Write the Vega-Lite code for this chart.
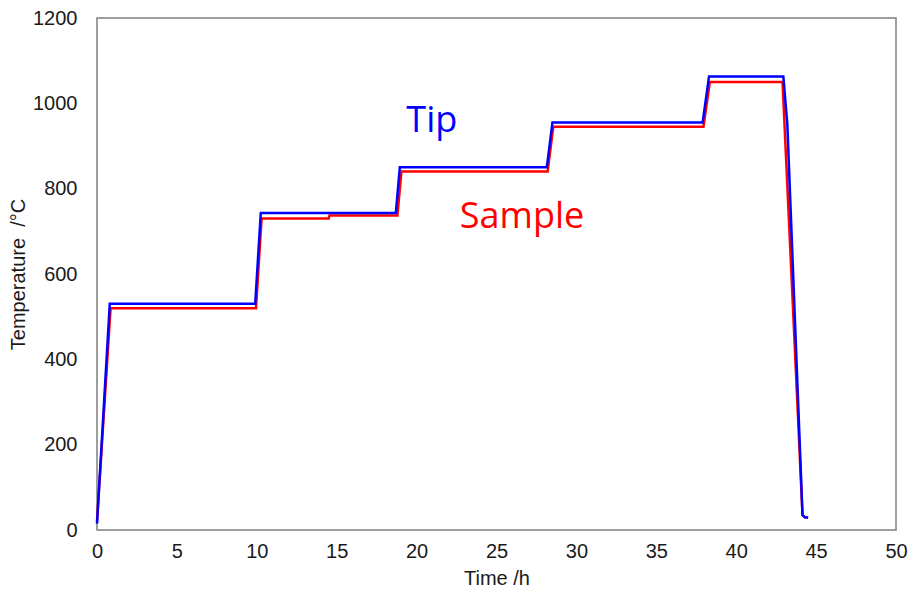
{
  "$schema": "https://vega.github.io/schema/vega-lite/v6.json",
  "autosize": "none",
  "width": 799,
  "height": 512,
  "padding": {"left": 97, "top": 18, "right": 14, "bottom": 67},
  "background": "white",
  "config": {
    "view": {"stroke": "#7f7f7f", "strokeWidth": 1.5},
    "font": "Liberation Sans"
  },
  "datasets": {
    "curves": [
      {"series": "Sample", "t": 0, "T": 20},
      {"series": "Sample", "t": 0.85, "T": 520},
      {"series": "Sample", "t": 9.95, "T": 520},
      {"series": "Sample", "t": 10.3, "T": 730},
      {"series": "Sample", "t": 14.5, "T": 730},
      {"series": "Sample", "t": 14.55, "T": 737},
      {"series": "Sample", "t": 18.8, "T": 737},
      {"series": "Sample", "t": 19.05, "T": 840},
      {"series": "Sample", "t": 28.2, "T": 840},
      {"series": "Sample", "t": 28.55, "T": 945},
      {"series": "Sample", "t": 37.95, "T": 945},
      {"series": "Sample", "t": 38.35, "T": 1050},
      {"series": "Sample", "t": 42.9, "T": 1050},
      {"series": "Sample", "t": 44.15, "T": 35},
      {"series": "Sample", "t": 44.3, "T": 30},
      {"series": "Sample", "t": 44.5, "T": 29},
      {"series": "Tip", "t": 0, "T": 15},
      {"series": "Tip", "t": 0.8, "T": 530},
      {"series": "Tip", "t": 9.9, "T": 530},
      {"series": "Tip", "t": 10.25, "T": 743},
      {"series": "Tip", "t": 18.7, "T": 743},
      {"series": "Tip", "t": 18.95, "T": 850},
      {"series": "Tip", "t": 28.15, "T": 850},
      {"series": "Tip", "t": 28.5, "T": 955},
      {"series": "Tip", "t": 37.9, "T": 955},
      {"series": "Tip", "t": 38.3, "T": 1063},
      {"series": "Tip", "t": 42.95, "T": 1063},
      {"series": "Tip", "t": 43.2, "T": 950},
      {"series": "Tip", "t": 44.15, "T": 35},
      {"series": "Tip", "t": 44.3, "T": 30},
      {"series": "Tip", "t": 44.5, "T": 29}
    ],
    "labels": [
      {"series": "Tip", "t": 20.95, "T": 958},
      {"series": "Sample", "t": 26.6, "T": 733}
    ]
  },
  "layer": [
    {
      "data": {"name": "curves"},
      "mark": {"type": "line", "strokeWidth": 2.5},
      "encoding": {
        "x": {
          "field": "t", "type": "quantitative",
          "scale": {"domain": [0, 50], "nice": false},
          "axis": {
            "title": "Time /h", "values": [0,5,10,15,20,25,30,35,40,45,50],
            "format": "d", "labelFlush": false, "labelOverlap": false,
            "grid": false, "ticks": false, "domain": false,
            "labelFontSize": 20, "labelColor": "#1a1a1a", "labelPadding": 11,
            "titleFontSize": 20, "titleFontWeight": "normal", "titleColor": "#1a1a1a", "titlePadding": 7
          }
        },
        "y": {
          "field": "T", "type": "quantitative",
          "scale": {"domain": [0, 1200], "nice": false},
          "axis": {
            "title": "Temperature\u00a0\u00a0/°C", "values": [0,200,400,600,800,1000,1200],
            "format": "d", "labelFlush": false, "labelOverlap": false,
            "grid": false, "ticks": false, "domain": false,
            "labelFontSize": 20, "labelColor": "#1a1a1a", "labelPadding": 20,
            "titleFontSize": 20, "titleFontWeight": "normal", "titleColor": "#1a1a1a", "titlePadding": 4
          }
        },
        "color": {
          "field": "series", "type": "nominal",
          "scale": {"domain": ["Sample", "Tip"], "range": ["#ff0000", "#0000ff"]},
          "legend": null
        },
        "order": {"field": "t", "type": "quantitative"}
      }
    },
    {
      "data": {"name": "labels"},
      "mark": {"type": "text", "fontSize": 36, "font": "Open Sans", "align": "center", "baseline": "middle"},
      "encoding": {
        "x": {"field": "t", "type": "quantitative"},
        "y": {"field": "T", "type": "quantitative"},
        "text": {"field": "series"},
        "color": {"field": "series", "type": "nominal", "legend": null}
      }
    }
  ]
}
